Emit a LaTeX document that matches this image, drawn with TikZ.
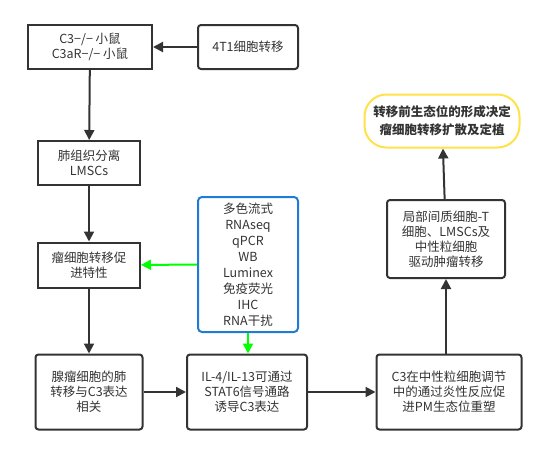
\documentclass[tikz,border=0pt]{standalone}
\usepackage{fontspec}
\setmainfont{Noto Sans CJK SC}
\usetikzlibrary{arrows.meta}
\definecolor{dk}{HTML}{333333}
\definecolor{bl}{HTML}{1F7CD6}
\definecolor{gr}{HTML}{00FF00}
\definecolor{yl}{HTML}{FFE24A}
\begin{document}
\begin{tikzpicture}[x=1pt,y=-1pt,
  box/.style={draw=dk,line width=2pt,text=dk,align=center,font=\fontsize{12.5}{15}\selectfont,inner sep=0pt},
  arr/.style={draw=dk,line width=2pt,-{Triangle[length=10pt,width=10pt]}},
  garr/.style={draw=gr,line width=2pt,-{Triangle[length=10pt,width=10pt]}}]
\useasboundingbox (0,0) rectangle (555,455);
\node[box,minimum width=124pt,minimum height=44pt] (c3) at (90,47) {C3−/− 小鼠\\C3aR−/− 小鼠};
\node[box,rounded corners=3pt,minimum width=100pt,minimum height=44pt] (t41) at (248,47) {4T1细胞转移};
\node[box,minimum width=102pt,minimum height=44pt] (lung) at (89,163) {肺组织分离\\LMSCs};
\node[box,minimum width=102pt,minimum height=45pt] (tum) at (89,265) {瘤细胞转移促\\进特性};
\node[box,rounded corners=3pt,minimum width=107pt,minimum height=75pt] (aden) at (89,392) {腺瘤细胞的肺\\转移与C3表达\\相关};
\node[box,rounded corners=3pt,minimum width=120pt,minimum height=75pt] (il4) at (247,392) {IL-4/IL-13可通过\\STAT6信号通路\\诱导C3表达};
\node[box,rounded corners=3pt,minimum width=145pt,minimum height=75pt] (c3n) at (449,392) {C3在中性粒细胞调节\\中的通过炎性反应促\\进PM生态位重塑};
\node[box,rounded corners=3pt,minimum width=118pt,minimum height=78pt] (loc) at (446,239) {局部间质细胞-T\\细胞、LMSCs及\\中性粒细胞\\驱动肿瘤转移};
\node[box,draw=yl,rounded corners=22pt,minimum width=155pt,minimum height=53pt,font=\fontsize{12.5}{18}\selectfont\bfseries] (niche) at (442,121) {转移前生态位的形成决定\\瘤细胞转移扩散及定植};
\node[box,draw=bl,rounded corners=4pt,minimum width=100pt,minimum height=135pt,font=\fontsize{12.5}{16}\selectfont] (meth) at (248,264.5) {多色流式\\RNAseq\\qPCR\\WB\\Luminex\\免疫荧光\\IHC\\RNA干扰};
\draw[arr] (t41) -- (c3);
\draw[arr] (c3) -- (lung);
\draw[arr] (lung) -- (tum);
\draw[arr] (tum) -- (aden);
\draw[arr] (aden) -- (il4);
\draw[arr] (il4) -- (c3n);
\draw[arr] (c3n.north -| loc.south) -- (loc.south);
\draw[arr] (loc) -- (niche);
\draw[garr] (meth) -- (tum);
\draw[garr] (meth.south) -- (il4.north -| meth.south);
\end{tikzpicture}
\end{document}
